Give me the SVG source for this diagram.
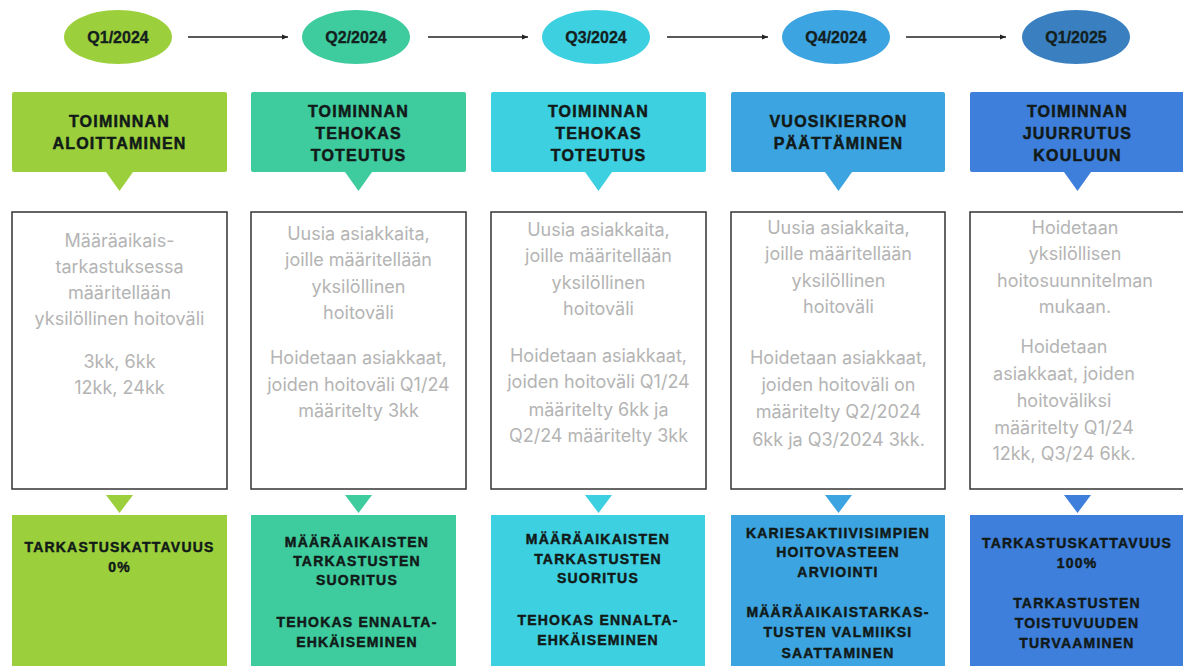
<svg xmlns="http://www.w3.org/2000/svg" width="1183" height="666" viewBox="0 0 1183 666">
<defs>
<marker id="ah" markerWidth="8" markerHeight="8" refX="6" refY="4" orient="auto" markerUnits="userSpaceOnUse">
<path d="M0,1.5 L6,4 L0,6.5 Z" fill="#222"/>
</marker>
<style>
.q{font-family:"Liberation Sans",Arial,sans-serif;font-weight:bold;font-size:16px;fill:#14201e;stroke:#14201e;stroke-width:0.3;text-anchor:middle}
.h{font-family:"Liberation Sans",Arial,sans-serif;font-weight:bold;font-size:16px;letter-spacing:1.2px;fill:#111a18;stroke:#111a18;stroke-width:0.5;text-anchor:middle}
.b{font-family:"Liberation Sans",Arial,sans-serif;font-weight:bold;font-size:14px;letter-spacing:1.2px;fill:#111a18;stroke:#111a18;stroke-width:0.45;text-anchor:middle}
.t{font-family:Inter,"Liberation Sans",sans-serif;font-size:18px;fill:#b4b4b4;text-anchor:middle}
.box{fill:#fff;stroke:#333;stroke-width:1.5}
.conn{stroke:#222;stroke-width:1.3;fill:none;marker-end:url(#ah)}
</style>
</defs>
<rect width="1183" height="666" fill="#fff"/>

<g id="connectors">
<line class="conn" x1="188" y1="37" x2="288" y2="37"/>
<line class="conn" x1="428" y1="37" x2="528" y2="37"/>
<line class="conn" x1="667" y1="37" x2="768" y2="37"/>
<line class="conn" x1="906" y1="37" x2="1006" y2="37"/>
</g>

<g id="q1-2024"><ellipse cx="118" cy="37" rx="54" ry="27" fill="#9ccf3c"/><text class="q" x="118" y="43">Q1/2024</text></g>
<g id="q2-2024"><ellipse cx="356" cy="37" rx="54" ry="27" fill="#3ecb9e"/><text class="q" x="356" y="43">Q2/2024</text></g>
<g id="q3-2024"><ellipse cx="596" cy="37" rx="54" ry="27" fill="#3dd0e0"/><text class="q" x="596" y="43">Q3/2024</text></g>
<g id="q4-2024"><ellipse cx="836" cy="37" rx="54" ry="27" fill="#3ca4e0"/><text class="q" x="836" y="43">Q4/2024</text></g>
<g id="q1-2025"><ellipse cx="1076" cy="37" rx="54" ry="27" fill="#3a80c0"/><text class="q" x="1076" y="43">Q1/2025</text></g>

<!-- Column 1 -->
<g id="col1-header">
<rect x="12" y="92" width="215" height="80" rx="2" fill="#9ccf3c"/>
<path d="M106,172 L133,172 L119.5,191 Z" fill="#9ccf3c"/>
<text class="h" x="119.5" y="127">TOIMINNAN</text>
<text class="h" x="119.5" y="149">ALOITTAMINEN</text>
</g>
<g id="col1-body">
<rect class="box" x="12" y="212" width="215" height="277"/>
<text class="t" x="119.5" y="247">Määräaikais-</text>
<text class="t" x="119.5" y="273">tarkastuksessa</text>
<text class="t" x="119.5" y="299">määritellään</text>
<text class="t" x="119.5" y="325">yksilöllinen hoitoväli</text>
<text class="t" x="119.5" y="368">3kk, 6kk</text>
<text class="t" x="119.5" y="394">12kk, 24kk</text>
</g>
<g id="col1-result">
<path d="M106,495 L133,495 L119.5,513 Z" fill="#9ccf3c"/>
<rect x="12" y="515" width="215" height="151" fill="#9ccf3c"/>
<text class="b" x="119.5" y="552">TARKASTUSKATTAVUUS</text>
<text class="b" x="119.5" y="572">0%</text>
</g>

<!-- Column 2 -->
<g id="col2-header">
<rect x="251" y="92" width="215" height="80" rx="2" fill="#3ecb9e"/>
<path d="M345,172 L372,172 L358.5,191 Z" fill="#3ecb9e"/>
<text class="h" x="358.5" y="117">TOIMINNAN</text>
<text class="h" x="358.5" y="139">TEHOKAS</text>
<text class="h" x="358.5" y="161">TOTEUTUS</text>
</g>
<g id="col2-body">
<rect class="box" x="251" y="212" width="215" height="277"/>
<text class="t" x="358.5" y="240">Uusia asiakkaita,</text>
<text class="t" x="358.5" y="266">joille määritellään</text>
<text class="t" x="358.5" y="293">yksilöllinen</text>
<text class="t" x="358.5" y="319">hoitoväli</text>
<text class="t" x="358.5" y="364">Hoidetaan asiakkaat,</text>
<text class="t" x="358.5" y="391">joiden hoitoväli Q1/24</text>
<text class="t" x="358.5" y="417">määritelty 3kk</text>
</g>
<g id="col2-result">
<path d="M345,495 L372,495 L358.5,513 Z" fill="#3ecb9e"/>
<rect x="251" y="515" width="205" height="151" fill="#3ecb9e"/>
<text class="b" x="357" y="547">MÄÄRÄAIKAISTEN</text>
<text class="b" x="357" y="566">TARKASTUSTEN</text>
<text class="b" x="357" y="585">SUORITUS</text>
<text class="b" x="357" y="627">TEHOKAS ENNALTA-</text>
<text class="b" x="357" y="647">EHKÄISEMINEN</text>
</g>

<!-- Column 3 -->
<g id="col3-header">
<rect x="491" y="92" width="215" height="80" rx="2" fill="#3dd0e0"/>
<path d="M585,172 L612,172 L598.5,191 Z" fill="#3dd0e0"/>
<text class="h" x="598.5" y="117">TOIMINNAN</text>
<text class="h" x="598.5" y="139">TEHOKAS</text>
<text class="h" x="598.5" y="161">TOTEUTUS</text>
</g>
<g id="col3-body">
<rect class="box" x="491" y="212" width="215" height="277"/>
<text class="t" x="598.5" y="236">Uusia asiakkaita,</text>
<text class="t" x="598.5" y="262">joille määritellään</text>
<text class="t" x="598.5" y="289">yksilöllinen</text>
<text class="t" x="598.5" y="315">hoitoväli</text>
<text class="t" x="598.5" y="362">Hoidetaan asiakkaat,</text>
<text class="t" x="598.5" y="388">joiden hoitoväli Q1/24</text>
<text class="t" x="598.5" y="416">määritelty 6kk ja</text>
<text class="t" x="598.5" y="442">Q2/24 määritelty 3kk</text>
</g>
<g id="col3-result">
<path d="M585,495 L612,495 L598.5,513 Z" fill="#3dd0e0"/>
<rect x="491" y="515" width="214" height="151" fill="#3dd0e0"/>
<text class="b" x="598" y="544">MÄÄRÄAIKAISTEN</text>
<text class="b" x="598" y="564">TARKASTUSTEN</text>
<text class="b" x="598" y="583">SUORITUS</text>
<text class="b" x="598" y="625">TEHOKAS ENNALTA-</text>
<text class="b" x="598" y="645">EHKÄISEMINEN</text>
</g>

<!-- Column 4 -->
<g id="col4-header">
<rect x="731" y="92" width="214" height="80" rx="2" fill="#3ca4e0"/>
<path d="M825,172 L852,172 L838.5,191 Z" fill="#3ca4e0"/>
<text class="h" x="838.5" y="127">VUOSIKIERRON</text>
<text class="h" x="838.5" y="149">PÄÄTTÄMINEN</text>
</g>
<g id="col4-body">
<rect class="box" x="731" y="212" width="214" height="277"/>
<text class="t" x="838.5" y="234">Uusia asiakkaita,</text>
<text class="t" x="838.5" y="260">joille määritellään</text>
<text class="t" x="838.5" y="287">yksilöllinen</text>
<text class="t" x="838.5" y="313">hoitoväli</text>
<text class="t" x="838.5" y="364">Hoidetaan asiakkaat,</text>
<text class="t" x="838.5" y="391">joiden hoitoväli on</text>
<text class="t" x="838.5" y="418">määritelty Q2/2024</text>
<text class="t" x="838.5" y="446">6kk ja Q3/2024 3kk.</text>
</g>
<g id="col4-result">
<path d="M825,495 L852,495 L838.5,513 Z" fill="#3ca4e0"/>
<rect x="731" y="515" width="214" height="151" fill="#3ca4e0"/>
<text class="b" x="838" y="538">KARIESAKTIIVISIMPIEN</text>
<text class="b" x="838" y="557">HOITOVASTEEN</text>
<text class="b" x="838" y="577">ARVIOINTI</text>
<text class="b" x="838" y="617">MÄÄRÄAIKAISTARKAS-</text>
<text class="b" x="838" y="637">TUSTEN VALMIIKSI</text>
<text class="b" x="838" y="658">SAATTAMINEN</text>
</g>

<!-- Column 5 -->
<g id="col5-header">
<rect x="970" y="92" width="215" height="80" rx="2" fill="#3f7fdc"/>
<path d="M1064,172 L1091,172 L1077.5,191 Z" fill="#3f7fdc"/>
<text class="h" x="1077.5" y="117">TOIMINNAN</text>
<text class="h" x="1077.5" y="139">JUURRUTUS</text>
<text class="h" x="1077.5" y="161">KOULUUN</text>
</g>
<g id="col5-body">
<rect class="box" x="970" y="212" width="215" height="277"/>
<text class="t" x="1075" y="234">Hoidetaan</text>
<text class="t" x="1075" y="260">yksilöllisen</text>
<text class="t" x="1075" y="287">hoitosuunnitelman</text>
<text class="t" x="1075" y="313">mukaan.</text>
<text class="t" x="1064" y="353">Hoidetaan</text>
<text class="t" x="1064" y="380">asiakkaat, joiden</text>
<text class="t" x="1064" y="407">hoitoväliksi</text>
<text class="t" x="1064" y="434">määritelty Q1/24</text>
<text class="t" x="1064" y="460">12kk, Q3/24 6kk.</text>
</g>
<g id="col5-result">
<path d="M1064,495 L1091,495 L1077.5,513 Z" fill="#3f7fdc"/>
<rect x="970" y="515" width="215" height="151" fill="#3f7fdc"/>
<text class="b" x="1077" y="548">TARKASTUSKATTAVUUS</text>
<text class="b" x="1077" y="568">100%</text>
<text class="b" x="1077" y="608">TARKASTUSTEN</text>
<text class="b" x="1077" y="628">TOISTUVUUDEN</text>
<text class="b" x="1077" y="648">TURVAAMINEN</text>
</g>
</svg>
